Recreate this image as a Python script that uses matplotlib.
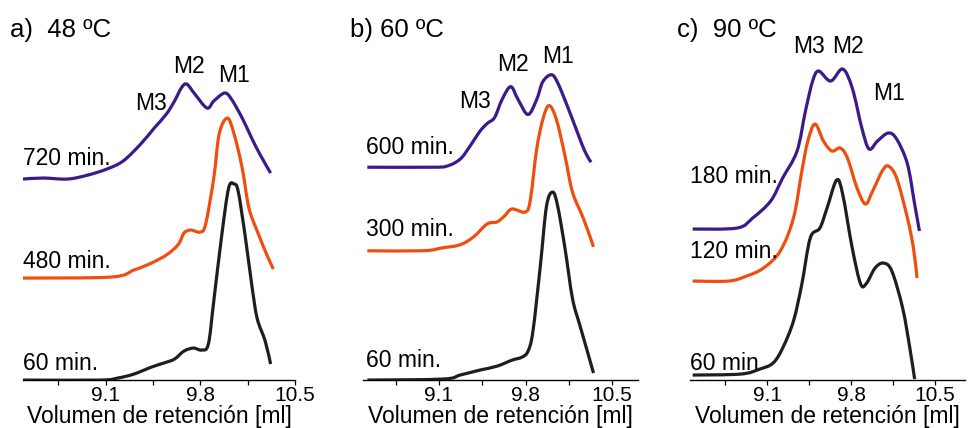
import matplotlib
matplotlib.use("Agg")
import matplotlib.pyplot as plt
from matplotlib.path import Path
from matplotlib.patches import PathPatch

plt.rcParams['font.family'] = ['Liberation Sans', 'DejaVu Sans']

# a) 48 ºC
a_x_60 = [8.49, 9.06, 9.19, 9.31, 9.44, 9.53, 9.61, 9.68, 9.75, 9.81, 9.86, 9.90,
          9.96, 10.01, 10.05, 10.08, 10.13, 10.18, 10.22, 10.28, 10.32]
a_y_60 = [0, 0, 2, 6, 13, 17, 21, 29, 32, 30, 36, 79, 146, 192, 196, 189, 146, 96, 62, 39, 16]
a_x_480 = [8.49, 9.14, 9.31, 9.44, 9.56, 9.64, 9.68, 9.73, 9.80, 9.84, 9.90, 9.94,
           10.00, 10.05, 10.11, 10.16, 10.23, 10.29, 10.34]
a_y_480 = [102, 103, 110, 117, 126, 136, 147, 150, 148, 156, 202, 246, 262, 246, 212,
           172, 146, 126, 111]
a_x_720 = [8.49, 8.64, 8.82, 8.97, 9.11, 9.23, 9.36, 9.46, 9.55, 9.61, 9.66, 9.70,
           9.76, 9.85, 9.90, 9.98, 10.03, 10.11, 10.18, 10.24, 10.32]
a_y_720 = [201, 202, 201, 205, 211, 219, 236, 252, 266, 279, 292, 296, 286, 272, 279,
           287, 281, 262, 242, 226, 207]

# b) 60 ºC
b_x_60 = [8.52, 9.13, 9.27, 9.43, 9.57, 9.69, 9.77, 9.82, 9.86, 9.92, 9.97, 10.02,
          10.06, 10.12, 10.18, 10.24, 10.30, 10.35]
b_y_60 = [0, 1, 5, 10, 14, 20, 23, 29, 49, 115, 175, 189, 175, 132, 82, 55, 29, 7]
b_x_300 = [8.52, 8.97, 9.13, 9.27, 9.38, 9.49, 9.57, 9.63, 9.69, 9.80, 9.84, 9.89,
           9.94, 9.99, 10.05, 10.12, 10.18, 10.27, 10.35]
b_y_300 = [130, 130, 133, 136, 144, 157, 159, 165, 172, 169, 182, 232, 262, 276, 262,
           225, 189, 162, 134]
b_x_600 = [8.52, 9.03, 9.16, 9.27, 9.35, 9.43, 9.49, 9.55, 9.61, 9.68, 9.74, 9.82,
           9.89, 9.94, 10.01, 10.06, 10.14, 10.22, 10.28, 10.33]
b_y_600 = [214, 214, 215, 222, 235, 250, 258, 264, 282, 295, 282, 267, 282, 300, 307,
           299, 275, 249, 230, 219]

# c) 90 ºC
c_x_60 = [8.48, 8.88, 9.04, 9.15, 9.23, 9.32, 9.39, 9.46, 9.54, 9.60, 9.68, 9.73,
          9.81, 9.88, 9.93, 10.00, 10.07, 10.14, 10.23, 10.29, 10.33]
c_y_60 = [5, 6, 11, 17, 32, 59, 96, 142, 152, 172, 200, 186, 132, 96, 97, 112, 117,
          109, 72, 32, 1]
c_x_120 = [8.48, 8.78, 8.93, 9.07, 9.21, 9.32, 9.39, 9.44, 9.50, 9.57, 9.64, 9.71,
           9.77, 9.85, 9.92, 9.98, 10.06, 10.11, 10.18, 10.27, 10.32, 10.35]
c_y_120 = [99, 99, 104, 112, 129, 162, 209, 239, 256, 239, 229, 232, 222, 192, 176,
           189, 209, 214, 202, 162, 132, 102]
c_x_180 = [8.48, 8.85, 8.98, 9.13, 9.23, 9.35, 9.42, 9.48, 9.53, 9.63, 9.73, 9.81,
           9.89, 9.95, 10.02, 10.11, 10.18, 10.27, 10.33, 10.37]
c_y_180 = [151, 152, 162, 179, 202, 229, 269, 299, 309, 299, 311, 292, 252, 231, 239,
           247, 241, 216, 176, 149]

major_ticks = [9.1, 9.8, 10.5]
minor_ticks = [8.75, 9.45, 10.15]

BLACK = '#1e1e1e'
ORANGE = '#f04e0f'
PURPLE = '#3b1a8a'
FS = 16.5


def smooth_path(xs, ys, k=6.0):
    # curva de Bezier que pasa por los puntos leidos (Catmull-Rom)
    verts = [(xs[0], ys[0])]
    codes = [Path.MOVETO]
    n = len(xs)
    for i in range(n - 1):
        x0, y0 = (xs[i - 1], ys[i - 1]) if i > 0 else (xs[i], ys[i])
        x1, y1 = xs[i], ys[i]
        x2, y2 = xs[i + 1], ys[i + 1]
        x3, y3 = (xs[i + 2], ys[i + 2]) if i + 2 < n else (x2, y2)
        c1 = (x1 + (x2 - x0) / k, y1 + (y2 - y0) / k)
        c2 = (x2 - (x3 - x1) / k, y2 - (y3 - y1) / k)
        verts += [c1, c2, (x2, y2)]
        codes += [Path.CURVE4] * 3
    return Path(verts, codes)


fig = plt.figure(figsize=(9.69, 4.28), dpi=100)

ax_a = fig.add_axes([0.0237, 0.1120, 0.2807, 0.8412])
ax_b = fig.add_axes([0.3746, 0.1120, 0.2838, 0.8412])
ax_c = fig.add_axes([0.7121, 0.1120, 0.2838, 0.8412])

panels = [
    (ax_a, (8.49, 10.5), 360,
     [(a_x_60, a_y_60, BLACK), (a_x_480, a_y_480, ORANGE), (a_x_720, a_y_720, PURPLE)]),
    (ax_b, (8.485, 10.71), 362,
     [(b_x_60, b_y_60, BLACK), (b_x_300, b_y_300, ORANGE), (b_x_600, b_y_600, PURPLE)]),
    (ax_c, (8.458, 10.75), 360,
     [(c_x_60, c_y_60, BLACK), (c_x_120, c_y_120, ORANGE), (c_x_180, c_y_180, PURPLE)]),
]

for ax, xl, ytop, curves in panels:
    for xs, ys, col in curves:
        ax.add_patch(PathPatch(smooth_path(xs, ys), facecolor='none', edgecolor=col,
                               lw=2.3, joinstyle='round', capstyle='butt', zorder=3))
    ax.set_xlim(*xl)
    ax.set_ylim(0, ytop)
    for s in ['top', 'right', 'left']:
        ax.spines[s].set_visible(False)
    ax.spines['bottom'].set_linewidth(1.0)
    ax.set_yticks([])
    ax.set_xticks(major_ticks)
    ax.set_xticks(minor_ticks, minor=True)
    ax.tick_params(axis='x', which='both', direction='out', length=3.5, width=0.9, pad=1)
    ax.set_xticklabels([str(t) for t in major_ticks], fontsize=15)
    ax.set_xlabel('Volumen de retención [ml]', fontsize=FS, labelpad=0)
    ax.patch.set_alpha(0)

# etiquetas de tiempo
ax_a.text(8.49, 222, '720 min.', fontsize=FS, va='center')
ax_a.text(8.49, 119, '480 min.', fontsize=FS, va='center')
ax_a.text(8.49, 17, '60 min.', fontsize=FS, va='center')
ax_b.text(8.51, 234, '600 min.', fontsize=FS, va='center')
ax_b.text(8.51, 151, '300 min.', fontsize=FS, va='center')
ax_b.text(8.51, 20, '60 min.', fontsize=FS, va='center')
ax_c.text(8.46, 204, '180 min.', fontsize=FS, va='center')
ax_c.text(8.46, 129, '120 min.', fontsize=FS, va='center')
ax_c.text(8.46, 17, '60 min', fontsize=FS, va='center')

# etiquetas de picos
ax_a.text(9.435, 277, 'M3', fontsize=FS, ha='center', va='center')
ax_a.text(9.72, 314, 'M2', fontsize=FS, ha='center', va='center')
ax_a.text(10.05, 305, 'M1', fontsize=FS, ha='center', va='center')
ax_b.text(9.39, 280, 'M3', fontsize=FS, ha='center', va='center')
ax_b.text(9.70, 317, 'M2', fontsize=FS, ha='center', va='center')
ax_b.text(10.06, 325, 'M1', fontsize=FS, ha='center', va='center')
ax_c.text(9.45, 334, 'M3', fontsize=FS, ha='center', va='center')
ax_c.text(9.77, 334, 'M2', fontsize=FS, ha='center', va='center')
ax_c.text(10.12, 287, 'M1', fontsize=FS, ha='center', va='center')

# titulos de panel
fig.text(0.0103, 0.93, 'a)  48 ºC', fontsize=18.5, va='center')
fig.text(0.361, 0.93, 'b) 60 ºC', fontsize=18.5, va='center')
fig.text(0.699, 0.93, 'c)  90 ºC', fontsize=18.5, va='center')

fig.savefig('out.png', dpi=100)
